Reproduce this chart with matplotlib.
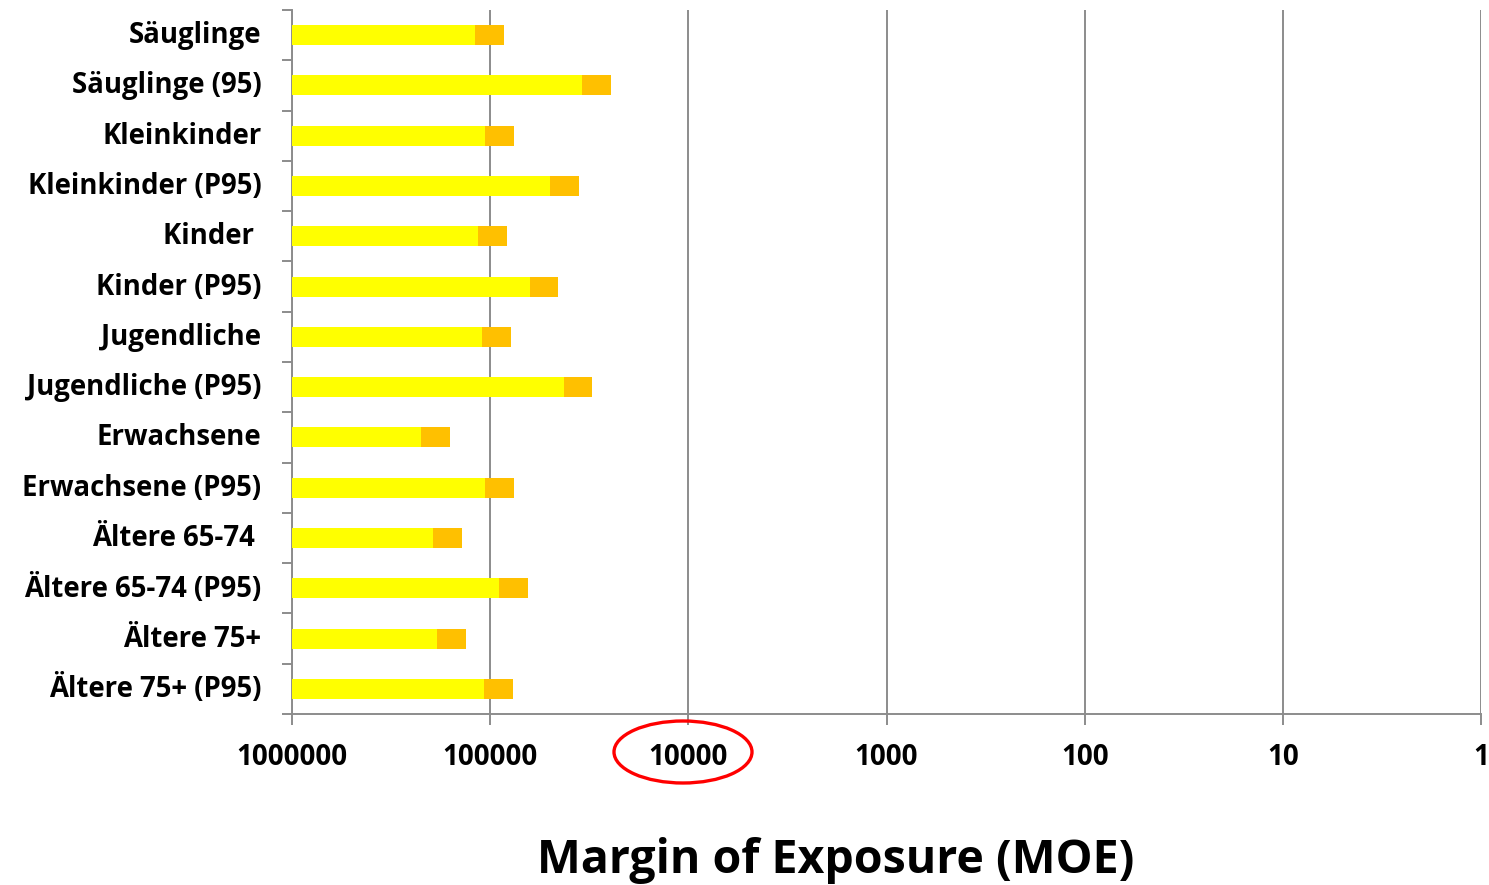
import matplotlib.pyplot as plt
import matplotlib.patches as mpatches
import matplotlib.transforms as mtransforms
from matplotlib.ticker import FixedLocator, FixedFormatter
import numpy as np

groups = ["Säuglinge", "Säuglinge (95)", "Kleinkinder", "Kleinkinder (P95)",
          "Kinder ", "Kinder (P95)", "Jugendliche", "Jugendliche (P95)",
          "Erwachsene", "Erwachsene (P95)", "Ältere 65-74 ", "Ältere 65-74 (P95)",
          "Ältere 75+", "Ältere 75+ (P95)"]
# MOE where the yellow part ends and where the orange part ends
moe_upper = [119200, 34600, 106500, 50000, 115500, 63100, 110300, 42500,
             224000, 106500, 194200, 90500, 184500, 107700]
moe_lower = [84700, 24600, 75700, 35600, 82400, 45600, 78700, 30700,
             159900, 75700, 138600, 64600, 131700, 77100]
xticks = [1000000, 100000, 10000, 1000, 100, 10, 1]
xtick_labels = ["1000000", "100000", "10000", "1000", "100", "10", "1"]

plt.rcParams['font.family'] = ['Open Sans', 'DejaVu Sans']
plt.rcParams['font.weight'] = 'bold'

fig = plt.figure(figsize=(14.89, 8.85), dpi=100)
ax = fig.add_axes([292 / 1489, 1 - 714 / 885, (1481 - 292) / 1489, 704 / 885])

y = np.arange(len(groups))
base = 1000000
upper = np.array(moe_upper, dtype=float)
lower = np.array(moe_lower, dtype=float)
ax.barh(y, upper - base, left=base, height=0.4, color='#FFFF00', zorder=3)
ax.barh(y, lower - upper, left=upper, height=0.4, color='#FFC000', zorder=3)

ax.set_xscale('log')
ax.set_xlim(1000000, 1)
ax.set_ylim(len(groups) - 0.5, -0.5)

ax.xaxis.set_major_locator(FixedLocator(xticks))
ax.xaxis.set_major_formatter(FixedFormatter(xtick_labels))
ax.xaxis.set_minor_locator(FixedLocator([]))
ax.grid(axis='x', color='#8c8c8c', linewidth=1.4, zorder=0)
ax.tick_params(axis='x', direction='out', length=8, width=1.4, color='#8c8c8c',
               labelsize=20, pad=13)

ax.set_yticks(y)
ax.set_yticklabels(groups)
ax.set_yticks(np.arange(len(groups) + 1) - 0.5, minor=True)
ax.tick_params(axis='y', which='major', length=0, labelsize=19.8, pad=22)
ax.tick_params(axis='y', which='minor', direction='out', length=7, width=1.4,
               color='#8c8c8c')
# nudge the group names up a little
shift = mtransforms.ScaledTranslation(0, 3 / 100, fig.dpi_scale_trans)
for lbl in ax.get_yticklabels():
    lbl.set_transform(lbl.get_transform() + shift)

for side in ['top', 'right']:
    ax.spines[side].set_visible(False)
for side in ['left', 'bottom']:
    ax.spines[side].set_color('#8c8c8c')
    ax.spines[side].set_linewidth(1.4)

fig.text(836 / 1489, 1 - 873 / 885, "Margin of Exposure (MOE)", ha='center',
         va='baseline', fontsize=33.5, fontweight='bold')

# red ring around the 10000 label
ring = mpatches.Ellipse((683 / 1489, 1 - 752 / 885), 138 / 1489, 62 / 885,
                        transform=fig.transFigure, fill=False,
                        edgecolor='#FF0000', linewidth=2.4)
fig.patches.append(ring)

fig.savefig('out.png', dpi=100)
